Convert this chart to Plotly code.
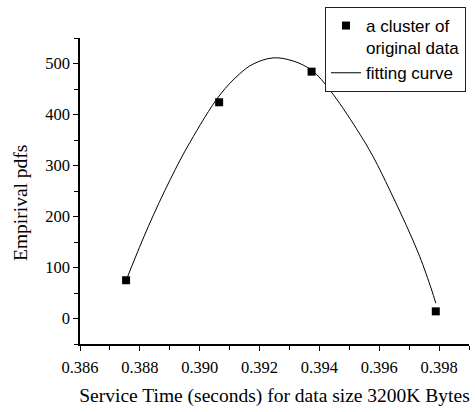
import plotly.graph_objects as go

# Original data points
data_x = [0.38754, 0.39065, 0.39374, 0.39789]
data_y = [75, 424, 484, 14]

# Fitting curve
curve_x = [0.38759, 0.38828, 0.38902, 0.38967, 0.39067, 0.39134, 0.39179, 0.39245,
           0.39312, 0.39376, 0.39435, 0.39524, 0.39579, 0.39635, 0.39691, 0.39735,
           0.39774, 0.39789]
curve_y = [82, 180, 273, 345, 438, 480, 499, 511,
           505, 486, 448, 372, 318, 252, 182, 122,
           58, 30]

x_ticks = [0.386, 0.388, 0.390, 0.392, 0.394, 0.396, 0.398]
x_tick_labels = ["0.386", "0.388", "0.390", "0.392", "0.394", "0.396", "0.398"]
y_ticks = [0, 100, 200, 300, 400, 500]
y_tick_labels = ["0", "100", "200", "300", "400", "500"]

fig = go.Figure()
fig.add_trace(go.Scatter(
    x=data_x, y=data_y, mode="markers",
    name="a cluster of<br>original data",
    marker=dict(symbol="square", size=8, color="black"),
))
fig.add_trace(go.Scatter(
    x=curve_x, y=curve_y, mode="lines",
    name="fitting curve",
    line=dict(color="black", width=1, shape="spline", smoothing=1.0),
))

serif = "Liberation Serif"
fig.update_layout(
    width=475, height=412,
    margin=dict(l=80, r=6, t=38, b=68),
    paper_bgcolor="white", plot_bgcolor="white",
    font=dict(family=serif, color="black"),
    showlegend=True,
    legend=dict(
        x=0.6298, y=1.1013, xanchor="left", yanchor="top",
        bordercolor="#222", borderwidth=1, bgcolor="white",
        font=dict(family="Liberation Sans", size=17, color="black"),
        valign="top", tracegroupgap=0, itemwidth=30,
    ),
    xaxis=dict(
        range=[0.386, 0.399], tickmode="array", tickvals=x_ticks, ticktext=x_tick_labels,
        showgrid=False, zeroline=False, showline=True, linecolor="black", linewidth=1.5,
        ticks="outside", ticklen=5, tickwidth=1.2, tickcolor="black",
        minor=dict(dtick=0.001, tick0=0.386, ticks="outside", ticklen=4, tickwidth=1.2,
                   tickcolor="black", showgrid=False),
        tickfont=dict(family=serif, size=16.5, color="black"),
        ticklabelstandoff=2, automargin=False,
        title=dict(text="Service Time (seconds) for data size 3200K Bytes",
                   font=dict(family=serif, size=19.5, color="black"), standoff=13),
    ),
    yaxis=dict(
        range=[-50, 550], tickmode="array", tickvals=y_ticks, ticktext=y_tick_labels,
        showgrid=False, zeroline=False, showline=True, linecolor="black", linewidth=1.5,
        ticks="outside", ticklen=5, tickwidth=1.2, tickcolor="black",
        minor=dict(dtick=50, tick0=-50, ticks="outside", ticklen=4, tickwidth=1.2,
                   tickcolor="black", showgrid=False),
        tickfont=dict(family=serif, size=16.5, color="black"),
        automargin=False,
    ),
    annotations=[dict(
        text="Empirival pdfs", textangle=-90, showarrow=False,
        xref="paper", yref="paper", x=-0.1517, y=0.4608,
        xanchor="center", yanchor="middle",
        font=dict(family=serif, size=19.5, color="black"),
    )],
)

fig.write_html("out.html")
